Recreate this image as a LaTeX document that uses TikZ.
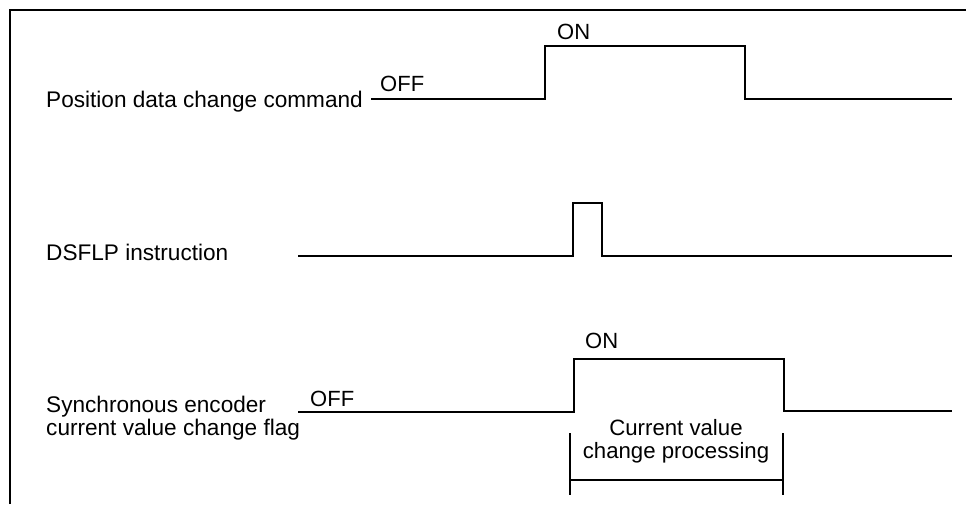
\documentclass[tikz,border=0pt]{standalone}
\usepackage{fontspec}
\setmainfont{Liberation Sans}
\begin{document}
\begin{tikzpicture}[x=1pt,y=-1pt,
  lbl/.style={font=\fontsize{22.6}{23}\selectfont, inner sep=0pt, anchor=base west},
  st/.style={font=\fontsize{22}{22}\selectfont, inner sep=0pt, anchor=base west},
  sig/.style={line width=2.6pt, line join=miter},
  frm/.style={line width=2pt},
  brk/.style={line width=1.8pt}]
\useasboundingbox (0,0) rectangle (966,504);
% frame
\draw[frm] (10,504) -- (10,10) -- (966,10);
% labels
\node[lbl] (l1) at (46,107) {Position data change command};
\node[lbl] (l2) at (46,260) {DSFLP instruction};
\node[lbl, align=left] (l3) at (46,435) {Synchronous encoder\\current value change flag};
\node[st] (on1) at (557,39) {ON};
\node[st] (off1) at (380,91) {OFF};
\node[st] (on2) at (585,348) {ON};
\node[st] (off2) at (310,406) {OFF};
\node[font=\fontsize{22.2}{23}\selectfont, inner sep=0pt, align=center, anchor=base] (cv) at (676,458) {Current value\\change processing};
% signal 1
\coordinate (a0) at (371,99);
\coordinate (a1) at (545,99);
\coordinate (a2) at (545,46);
\coordinate (a3) at (745,46);
\coordinate (a4) at (745,99);
\coordinate (a5) at (952,99);
\draw[sig] (a0) -- (a1) -- (a2) -- (a3) -- (a4) -- (a5);
% signal 2
\coordinate (b0) at (298,256);
\coordinate (b1) at (573,256);
\coordinate (b2) at (573,203);
\coordinate (b3) at (602,203);
\coordinate (b4) at (602,256);
\coordinate (b5) at (952,256);
\draw[sig] (b0) -- (b1) -- (b2) -- (b3) -- (b4) -- (b5);
% signal 3
\coordinate (c0) at (298,412);
\coordinate (c1) at (574,412);
\coordinate (c2) at (574,359);
\coordinate (c3) at (784,359);
\coordinate (c4) at (784,411);
\coordinate (c5) at (952,411);
\draw[sig] (c0) -- (c1) -- (c2) -- (c3) -- (c4) -- (c5);
% bracket
\coordinate (d0) at (570,433);
\coordinate (d1) at (570,495);
\coordinate (d2) at (783,433);
\coordinate (d3) at (783,495);
\coordinate (e0) at (570,480);
\coordinate (e1) at (783,480);
\draw[brk] (d0) -- (d1);
\draw[brk] (d2) -- (d3);
\draw[brk] (e0) -- (e1);
\end{tikzpicture}
\end{document}
